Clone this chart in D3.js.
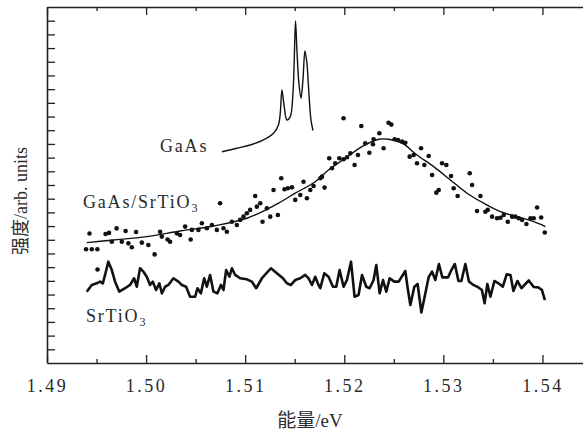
<!DOCTYPE html>
<html>
<head>
<meta charset="utf-8">
<script src="https://cdn.jsdelivr.net/npm/d3@7"></script>
<style>
  body { margin: 0; background: #fff; }
  text { font-family: "Liberation Serif", "Noto Sans CJK SC", serif; fill: #2a2a2a; }
</style>
</head>
<body>
<script>
// GaAs reference spectrum (thin line with the exciton peaks)
var gaasX = [1.50765,1.50916,1.51051,1.51185,1.51286,1.51336,1.51354,1.51371,1.51394,1.51421,1.51455,1.51482,1.51495,1.51508,1.51522,1.51542,1.51563,1.51583,1.51603,1.51623,1.51643,1.51664,1.51684];
var gaasY = [15.43,15.68,15.92,16.29,16.78,17.38,18.24,19.94,18.72,17.75,17.99,19.70,22.13,24.98,22.86,20.43,19.34,20.67,22.79,21.89,19.70,17.75,16.98];

// GaAs/SrTiO3 measured points
var dotX = [1.49394,1.49452,1.49508,1.49429,1.4951,1.49591,1.49626,1.49654,1.49702,1.49755,1.49793,1.49821,1.49856,1.49899,1.49957,1.50023,1.50086,1.50141,1.50159,1.50217,1.50242,1.5031,1.50343,1.50394,1.5045,1.50462,1.50528,1.50563,1.50613,1.50664,1.50714,1.50747,1.50781,1.50815,1.50866,1.50916,1.50949,1.50983,1.51017,1.5105,1.51101,1.51118,1.51152,1.51175,1.51219,1.51253,1.51286,1.5133,1.51364,1.51397,1.51431,1.51472,1.51505,1.51556,1.51589,1.51623,1.51657,1.5169,1.51758,1.51775,1.51801,1.51848,1.51876,1.51909,1.5195,1.51993,1.51993,1.52027,1.52061,1.52104,1.52138,1.52172,1.52212,1.52253,1.5229,1.52296,1.52354,1.52397,1.52447,1.52475,1.52508,1.52542,1.52583,1.52616,1.5266,1.527,1.52734,1.52775,1.52808,1.52852,1.52886,1.52929,1.52953,1.52987,1.5303,1.53078,1.53104,1.53144,1.53266,1.5329,1.5334,1.53374,1.53424,1.53448,1.53492,1.53542,1.53576,1.53609,1.5365,1.53694,1.53727,1.53761,1.53795,1.53838,1.53879,1.53912,1.53946,1.53987,1.54023];
var dotY = [8.31,8.31,8.31,9.46,6.83,9.42,9.50,8.86,9.83,8.86,9.64,8.74,8.45,9.57,8.79,8.62,7.93,9.59,9.23,9.02,8.86,9.47,9.35,9.96,9.02,9.72,9.72,10.21,9.84,10.08,9.72,11.67,9.84,9.59,10.32,10.08,10.45,10.69,10.94,11.18,12.20,11.42,11.67,10.32,11.30,10.69,12.64,10.81,13.49,12.69,12.76,12.83,11.91,12.27,13.24,12.03,12.64,12.93,13.49,13.61,12.81,14.95,14.22,14.59,14.95,14.88,17.87,15.03,15.32,14.46,15.19,17.31,16.05,15.36,15.98,16.34,16.78,15.68,17.55,17.41,16.34,16.29,16.17,16.09,15.07,15.19,14.59,15.68,14.46,15.12,13.73,12.44,12.64,14.59,14.46,13.66,12.76,12.20,13.86,13.00,11.10,12.20,11.05,11.18,10.69,10.57,10.61,10.81,10.32,10.69,10.69,10.57,10.45,10.15,10.57,10.57,11.36,10.63,9.53];

// fitted curve through the GaAs/SrTiO3 points
var fitX = [1.49401,1.4967,1.50007,1.50343,1.5068,1.51017,1.51303,1.51505,1.51707,1.51841,1.5201,1.52179,1.52347,1.52447,1.52583,1.52734,1.52902,1.53071,1.53239,1.53407,1.53576,1.53744,1.53912,1.5403];
var fitY = [8.79,8.98,9.23,9.64,10.01,10.57,11.54,12.40,13.24,14.10,14.95,15.80,16.34,16.34,16.05,15.19,14.34,13.37,12.40,11.67,11.05,10.69,10.32,9.96];

// bare SrTiO3 substrate (thick noisy line)
var srX = [1.49401,1.49452,1.49502,1.49535,1.49563,1.49586,1.49619,1.49654,1.49687,1.4973,1.49788,1.49838,1.49879,1.49906,1.49939,1.49973,1.50007,1.5004,1.50068,1.50101,1.50134,1.50159,1.50192,1.50225,1.50276,1.50326,1.50361,1.50404,1.50444,1.50495,1.50518,1.50553,1.50586,1.50613,1.50646,1.5068,1.5072,1.50755,1.50781,1.50808,1.50841,1.50866,1.50899,1.50949,1.51017,1.51068,1.51111,1.51169,1.5126,1.5132,1.51381,1.51421,1.51462,1.51505,1.51556,1.51606,1.51639,1.51674,1.51707,1.5174,1.51758,1.51798,1.51841,1.51886,1.51919,1.51953,1.51993,1.52027,1.52068,1.52104,1.52144,1.52179,1.52222,1.52256,1.52296,1.52323,1.52357,1.52391,1.52424,1.52458,1.52505,1.52549,1.52616,1.5264,1.52667,1.52707,1.5274,1.52778,1.52808,1.52852,1.52886,1.52919,1.52955,1.5299,1.53047,1.53081,1.53116,1.53152,1.53182,1.53222,1.53258,1.53303,1.53354,1.53389,1.53416,1.53444,1.53475,1.53515,1.53566,1.536,1.53639,1.53677,1.53707,1.53747,1.53788,1.53862,1.53912,1.5396,1.53995,1.54025];
var srY = [5.21,5.70,5.82,5.94,5.82,6.43,7.40,6.79,5.94,5.21,5.46,5.70,6.19,5.57,6.92,6.67,6.30,5.70,5.94,5.33,5.82,5.09,5.57,5.70,6.19,5.94,5.70,5.57,4.84,4.84,5.46,5.09,6.19,5.57,6.43,5.21,5.09,5.70,5.33,6.79,6.30,6.92,6.43,6.19,6.11,5.94,5.46,6.19,6.92,6.55,6.19,5.82,5.70,6.06,6.19,6.43,6.19,5.70,6.30,5.70,5.46,6.55,6.30,5.57,5.57,6.79,5.57,6.06,7.40,4.84,4.97,6.43,5.57,5.46,6.06,7.16,5.09,6.06,5.21,6.19,5.94,5.94,6.72,5.46,4.24,5.57,5.77,3.69,4.73,6.28,6.67,6.06,7.23,6.25,6.25,6.79,7.23,5.99,5.99,7.23,5.95,5.70,5.52,5.33,4.36,5.77,4.84,5.99,5.77,5.57,6.47,6.43,5.26,5.99,5.46,6.03,5.55,5.52,5.33,4.60];

var xMajor = [1.49, 1.50, 1.51, 1.52, 1.53, 1.54];
var xMinor = [1.495, 1.505, 1.515, 1.525, 1.535, 1.545];
var yTicks = d3.range(1, 26);

var width = 583, height = 433;
var margin = {left: 47, top: 7, right: -9, bottom: 70};

var x = d3.scaleLinear().domain([1.49, 1.545]).range([margin.left, width - margin.right]);
var y = d3.scaleLinear().domain([0, 26]).range([height - margin.bottom, margin.top]);

var svg = d3.select("body").append("svg")
    .attr("width", width)
    .attr("height", height);

function styleAxis(g) {
  g.select(".domain").attr("stroke", "#222").attr("stroke-width", 1.6);
  g.selectAll(".tick line").attr("stroke", "#222").attr("stroke-width", 1.3);
}

// bottom axis: inward ticks, labelled
svg.append("g")
    .attr("transform", "translate(0," + y(0) + ")")
    .call(d3.axisBottom(x).tickValues(xMajor).tickSizeInner(-8).tickSizeOuter(0).tickPadding(16).tickFormat(d3.format(".2f")))
    .call(styleAxis)
    .call(function(g) {
      g.selectAll(".tick text")
        .attr("font-size", 18)
        .attr("letter-spacing", 2.5)
        .attr("fill", "#2a2a2a")
        .attr("font-family", "Liberation Serif");
    });
svg.append("g")
    .attr("transform", "translate(0," + y(0) + ")")
    .call(d3.axisBottom(x).tickValues(xMinor).tickSizeInner(-4).tickSizeOuter(0).tickFormat(""))
    .call(styleAxis)
    .call(function(g) { g.select(".domain").remove(); });

// top axis
svg.append("g")
    .attr("transform", "translate(0," + y(26) + ")")
    .call(d3.axisTop(x).tickValues(xMajor).tickSizeInner(-8).tickSizeOuter(0).tickFormat(""))
    .call(styleAxis);
svg.append("g")
    .attr("transform", "translate(0," + y(26) + ")")
    .call(d3.axisTop(x).tickValues(xMinor).tickSizeInner(-4).tickSizeOuter(0).tickFormat(""))
    .call(styleAxis)
    .call(function(g) { g.select(".domain").remove(); });

// left axis, no labels
svg.append("g")
    .attr("transform", "translate(" + x(1.49) + ",0)")
    .call(d3.axisLeft(y).tickValues(yTicks).tickSizeInner(-8).tickSizeOuter(0).tickFormat(""))
    .call(styleAxis);

var line = d3.line()
    .x(function(d) { return x(d[0]); })
    .y(function(d) { return y(d[1]); });

svg.append("path")
    .attr("d", line.curve(d3.curveCatmullRom)(d3.zip(gaasX, gaasY)))
    .attr("fill", "none").attr("stroke", "#111").attr("stroke-width", 1.4);

svg.append("path")
    .attr("d", line.curve(d3.curveCatmullRom)(d3.zip(fitX, fitY)))
    .attr("fill", "none").attr("stroke", "#111").attr("stroke-width", 1.4);

svg.append("path")
    .attr("d", line.curve(d3.curveLinear)(d3.zip(srX, srY)))
    .attr("fill", "none").attr("stroke", "#111").attr("stroke-width", 2.6)
    .attr("stroke-linejoin", "round");

svg.append("g").selectAll("circle")
    .data(d3.zip(dotX, dotY))
    .join("circle")
    .attr("cx", function(d) { return x(d[0]); })
    .attr("cy", function(d) { return y(d[1]); })
    .attr("r", 2.3)
    .attr("fill", "#111");

// curve labels
function label(px, py, main, sub) {
  var t = svg.append("text")
      .attr("x", px).attr("y", py)
      .attr("font-size", 18)
      .attr("letter-spacing", 1.8)
      .text(main);
  if (sub) {
    t.append("tspan").attr("font-size", 12).attr("dy", 4).text(sub);
  }
}
label(160, 152, "GaAs");
label(83, 208, "GaAs/SrTiO", "3");
label(86, 322, "SrTiO", "3");

// axis titles
svg.append("text")
    .attr("x", 310).attr("y", 427)
    .attr("text-anchor", "middle")
    .attr("font-size", 19)
    .text("能量/eV");

svg.append("text")
    .attr("transform", "translate(27,201) rotate(-90)")
    .attr("text-anchor", "middle")
    .attr("font-size", 18)
    .text("强度/arb. units");
</script>
</body>
</html>
